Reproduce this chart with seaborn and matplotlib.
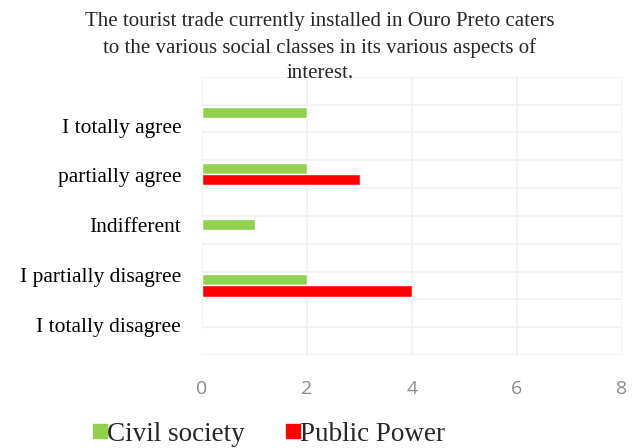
import matplotlib
matplotlib.use("Agg")
import matplotlib.pyplot as plt
import seaborn as sns
import pandas as pd
from matplotlib.patches import Patch

categories = ["I totally agree", "partially agree", "Indifferent",
              "I partially disagree", "I totally disagree"]
civil_society = [2, 2, 1, 2, 0]
public_power = [0, 3, 0, 4, 0]
series_names = ["Civil society", "Public Power"]
colors = ["#92d050", "#ff0000"]
x_ticks = [0, 2, 4, 6, 8]
title = ("The tourist trade currently installed in Ouro Preto caters\n"
         "to the various social classes in its various aspects of\n"
         "interest.")

df = pd.DataFrame({
    "category": categories * 2,
    "value": civil_society + public_power,
    "series": [series_names[0]] * len(categories) + [series_names[1]] * len(categories),
})

sns.set_style("white")
fig = plt.figure(figsize=(6.37, 4.48), dpi=100)
ax = fig.add_axes([202 / 637, 1 - 355 / 448, 420 / 637, (355 - 76.7) / 448])

sns.barplot(data=df, y="category", x="value", hue="series", order=categories,
            hue_order=series_names, palette=colors, orient="h", width=0.4,
            ax=ax, legend=False, saturation=1)

ax.set_xlim(0, 8)
ax.set_ylim(4.25, -0.75)
ax.set_xticks(x_ticks)
ax.set_xticklabels([str(t) for t in x_ticks], fontfamily="Open Sans",
                   fontsize=14, color="#8c8c8c")
# category labels sit slightly off the bar groups in the original layout
label_pos = [0.13 + 0.895 * i for i in range(len(categories))]
ax.set_yticks(label_pos)
ax.set_yticklabels(categories, fontfamily="Liberation Serif", fontsize=15.5, color="black")
ax.set_yticks([-0.75 + 0.5 * k for k in range(11)], minor=True)
ax.tick_params(axis="x", length=0, pad=18)
ax.tick_params(axis="y", which="both", length=0, pad=15)
ax.grid(True, axis="x", color="#f0f0f0", linewidth=1.2)
ax.grid(True, axis="y", which="minor", color="#f0f0f0", linewidth=1.2)
ax.grid(False, axis="y", which="major")
ax.set_axisbelow(True)
for s in ax.spines.values():
    s.set_visible(False)
ax.set_xlabel("")
ax.set_ylabel("")

fig.text(320 / 637, 1 - 12 / 448, title, ha="center", va="top",
         fontfamily="Liberation Serif", fontsize=15, linespacing=1.45)

handles = [Patch(color=c, label=n) for c, n in zip(colors, series_names)]
fig.legend(handles=handles, loc="center", bbox_to_anchor=(269 / 637, 1 - 434 / 448),
           ncol=2, frameon=False, handlelength=0.52, handleheight=0.45,
           handletextpad=0.0, columnspacing=1.5, borderpad=0, borderaxespad=0,
           prop={"family": "Liberation Serif", "size": 19.5})

fig.savefig("out.png", dpi=100)
